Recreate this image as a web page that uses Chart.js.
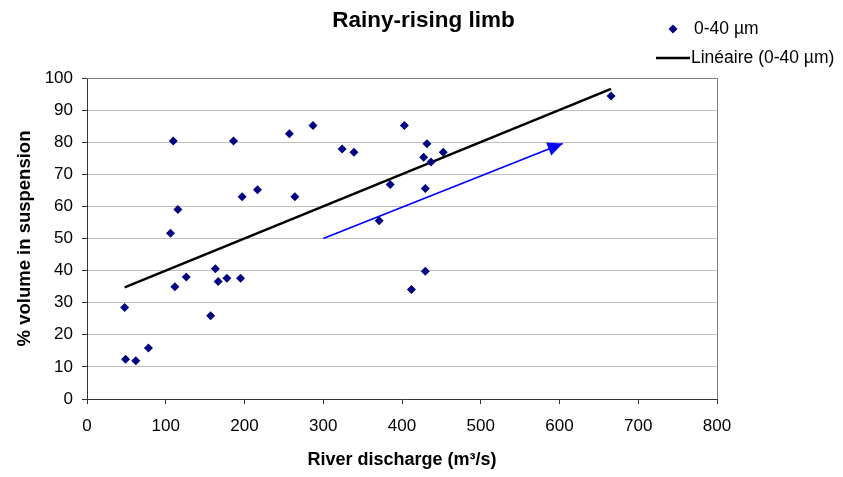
<!DOCTYPE html>
<html>
<head>
<meta charset="utf-8">
<script src="https://cdn.jsdelivr.net/npm/chart.js@4"></script>
<style>
  body { margin: 0; background: #fff; }
  #wrap { width: 843px; height: 477px; position: relative; }
</style>
</head>
<body>
<div id="wrap"><canvas id="chart"></canvas></div>
<script>
const fontFamily = '"Liberation Sans", Arial, sans-serif';

// river discharge (m3/s) and % volume in suspension
const dischargeValues = [47.8, 49, 62, 78, 106, 109.5, 111.6, 115.4, 126, 157, 163, 166.6, 177.6, 186, 195, 197,
    216.5, 257, 264, 287, 324, 339, 371, 385, 403, 412, 427.5, 429.6, 429.6, 431.7, 436.8, 452.4, 665.5];
const volumeValues = [28.5, 12.4, 11.9, 15.9, 51.6, 80.4, 35.0, 59.0, 38.0, 25.9, 40.6, 36.6, 37.6, 80.4, 37.6, 63.0,
    65.2, 82.6, 63.0, 85.2, 77.9, 76.9, 55.5, 66.8, 85.2, 34.1, 75.3, 65.6, 39.8, 79.5, 73.8, 76.9, 94.4];

// linear trendline end points
const trendX = [47.8, 665.5];
const trendY = [34.8, 96.6];

// blue arrow (start, tip)
const arrowX = [300, 604];
const arrowY = [50, 79.6];

const chartTitle = 'Rainy-rising limb';
const seriesName = '0-40 µm';
const trendName = 'Linéaire (0-40 µm)';
const xTitle = 'River discharge (m³/s)';
const yTitle = '% volume in suspension';

function toPoints(xs, ys) {
    return xs.map((x, i) => ({ x: x, y: ys[i] }));
}

// title, legend, plot frame and arrow head
const extrasPlugin = {
    id: 'extras',
    beforeDatasetsDraw(chart) {
        const { ctx, chartArea } = chart;
        ctx.save();
        ctx.strokeStyle = '#808080';
        ctx.lineWidth = 1;
        ctx.beginPath();
        ctx.moveTo(chartArea.left, Math.round(chartArea.top) + 0.5);
        ctx.lineTo(Math.round(chartArea.right) + 0.5, Math.round(chartArea.top) + 0.5);
        ctx.lineTo(Math.round(chartArea.right) + 0.5, chartArea.bottom);
        ctx.stroke();
        ctx.restore();
    },
    afterDatasetsDraw(chart) {
        const { ctx } = chart;
        const xs = chart.scales.x, ys = chart.scales.y;
        const n = arrowX.length;
        const x1 = xs.getPixelForValue(arrowX[n - 2]), y1 = ys.getPixelForValue(arrowY[n - 2]);
        const x2 = xs.getPixelForValue(arrowX[n - 1]), y2 = ys.getPixelForValue(arrowY[n - 1]);
        const ang = Math.atan2(y2 - y1, x2 - x1);
        const len = 15, half = 7;
        const bx = x2 - len * Math.cos(ang), by = y2 - len * Math.sin(ang);
        ctx.save();
        ctx.fillStyle = '#0000ff';
        ctx.beginPath();
        ctx.moveTo(x2, y2);
        ctx.lineTo(bx + half * Math.sin(ang), by - half * Math.cos(ang));
        ctx.lineTo(bx - half * Math.sin(ang), by + half * Math.cos(ang));
        ctx.closePath();
        ctx.fill();
        ctx.restore();
    },
    afterDraw(chart) {
        const { ctx } = chart;
        ctx.save();
        ctx.fillStyle = '#000';
        ctx.font = 'bold 22.5px ' + fontFamily;
        ctx.textAlign = 'center';
        ctx.textBaseline = 'alphabetic';
        ctx.fillText(chartTitle, 423.5, 27);

        // legend
        ctx.font = '17.5px ' + fontFamily;
        ctx.textAlign = 'left';
        ctx.textBaseline = 'middle';
        ctx.fillStyle = '#000080';
        ctx.beginPath();
        ctx.moveTo(673, 24.5);
        ctx.lineTo(677.5, 29);
        ctx.lineTo(673, 33.5);
        ctx.lineTo(668.5, 29);
        ctx.closePath();
        ctx.fill();
        ctx.fillStyle = '#000';
        ctx.fillText(seriesName, 694, 29);

        ctx.strokeStyle = '#000';
        ctx.lineWidth = 2.5;
        ctx.beginPath();
        ctx.moveTo(656, 58);
        ctx.lineTo(690, 58);
        ctx.stroke();
        ctx.fillText(trendName, 691, 58);
        ctx.restore();
    }
};

const ctx = document.getElementById('chart');
const chart = new Chart(ctx, {
    type: 'scatter',
    data: {
        datasets: [
            {
                label: seriesName,
                data: toPoints(dischargeValues, volumeValues),
                pointStyle: 'rectRot',
                pointRadius: 4.5,
                pointBorderWidth: 0,
                backgroundColor: '#000080',
                borderColor: '#000080',
            },
            {
                label: trendName,
                data: toPoints(trendX, trendY),
                showLine: true,
                pointRadius: 0,
                borderColor: '#000',
                borderWidth: 2.5,
            },
            {
                label: 'arrow',
                data: toPoints(arrowX, arrowY),
                showLine: true,
                pointRadius: 0,
                borderColor: '#0000ff',
                borderWidth: 1.8,
            },
        ],
    },
    options: {
        animation: false,
        responsive: true,
        maintainAspectRatio: false,
        layout: {
            padding: { top: 78, right: 126, left: 0, bottom: 0 }
        },
        plugins: {
            legend: { display: false },
            title: { display: false },
            tooltip: { enabled: false },
        },
        scales: {
            x: {
                type: 'linear',
                min: 0,
                max: 800,
                afterFit: (scale) => { scale.height = 78; },
                ticks: {
                    stepSize: 100,
                    color: '#000',
                    padding: 12,
                    font: { family: fontFamily, size: 17 },
                },
                grid: {
                    drawOnChartArea: false,
                    tickLength: 5,
                    tickColor: '#333',
                },
                border: { color: '#333', width: 1 },
                title: {
                    display: true,
                    text: xTitle,
                    color: '#000',
                    font: { family: fontFamily, size: 18, weight: 'bold' },
                    padding: { top: 0, bottom: 6 },
                },
            },
            y: {
                type: 'linear',
                min: 0,
                max: 100,
                afterFit: (scale) => { scale.width = 87; },
                ticks: {
                    stepSize: 10,
                    color: '#000',
                    padding: 9,
                    font: { family: fontFamily, size: 17 },
                },
                grid: {
                    color: '#c0c0c0',
                    tickLength: 5,
                    tickColor: '#333',
                },
                border: { color: '#333', width: 1 },
                title: {
                    display: true,
                    text: yTitle,
                    color: '#000',
                    font: { family: fontFamily, size: 18.5, weight: 'bold' },
                    padding: { top: 14, bottom: 0 },
                },
            },
        },
    },
    plugins: [extrasPlugin],
});
</script>
</body>
</html>
